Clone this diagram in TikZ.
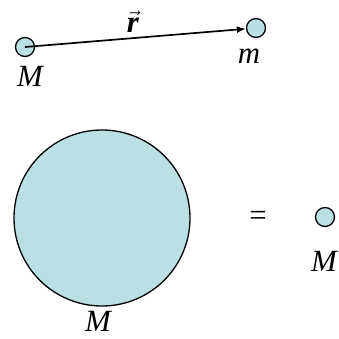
\documentclass[tikz,border=0pt]{standalone}
\usepackage{fontspec}
\setmainfont{Liberation Serif}
\usetikzlibrary{arrows.meta}
\definecolor{ball}{RGB}{187,224,227}
\begin{document}
\begin{tikzpicture}[x=1bp,y=-1bp,
  ballst/.style={circle,draw=black,line width=1.3bp,fill=ball,inner sep=0pt},
  lab/.style={inner sep=0pt,font=\fontsize{31}{31}\selectfont\itshape}]
\useasboundingbox (0,0) rectangle (339,339);
\node[ballst,minimum size=19bp] (M1) at (25,47) {};
\node[ballst,minimum size=19bp] (m1) at (256,28) {};
\draw[line width=1.7bp,-{Latex[length=9bp,width=7bp]}] (M1.center) -- (m1);
\node[lab,anchor=base] (lr) at (133,32) {$\vec{\hbox{\bfseries\itshape r}}$};
\node[lab,anchor=base] (lM1) at (30,86) {M};
\node[lab,anchor=base] (lm1) at (249,63) {m};
\node[ballst,minimum size=176bp] (big) at (102,218) {};
\node[lab,anchor=base] (lM2) at (98,331) {M};
\node[inner sep=0pt,font=\fontsize{31}{31}\selectfont] (eq) at (258,218) {=};
\node[ballst,minimum size=19bp] (M3) at (325,217) {};
\node[lab,anchor=base] (lM3) at (324,271) {M};
\end{tikzpicture}
\end{document}
